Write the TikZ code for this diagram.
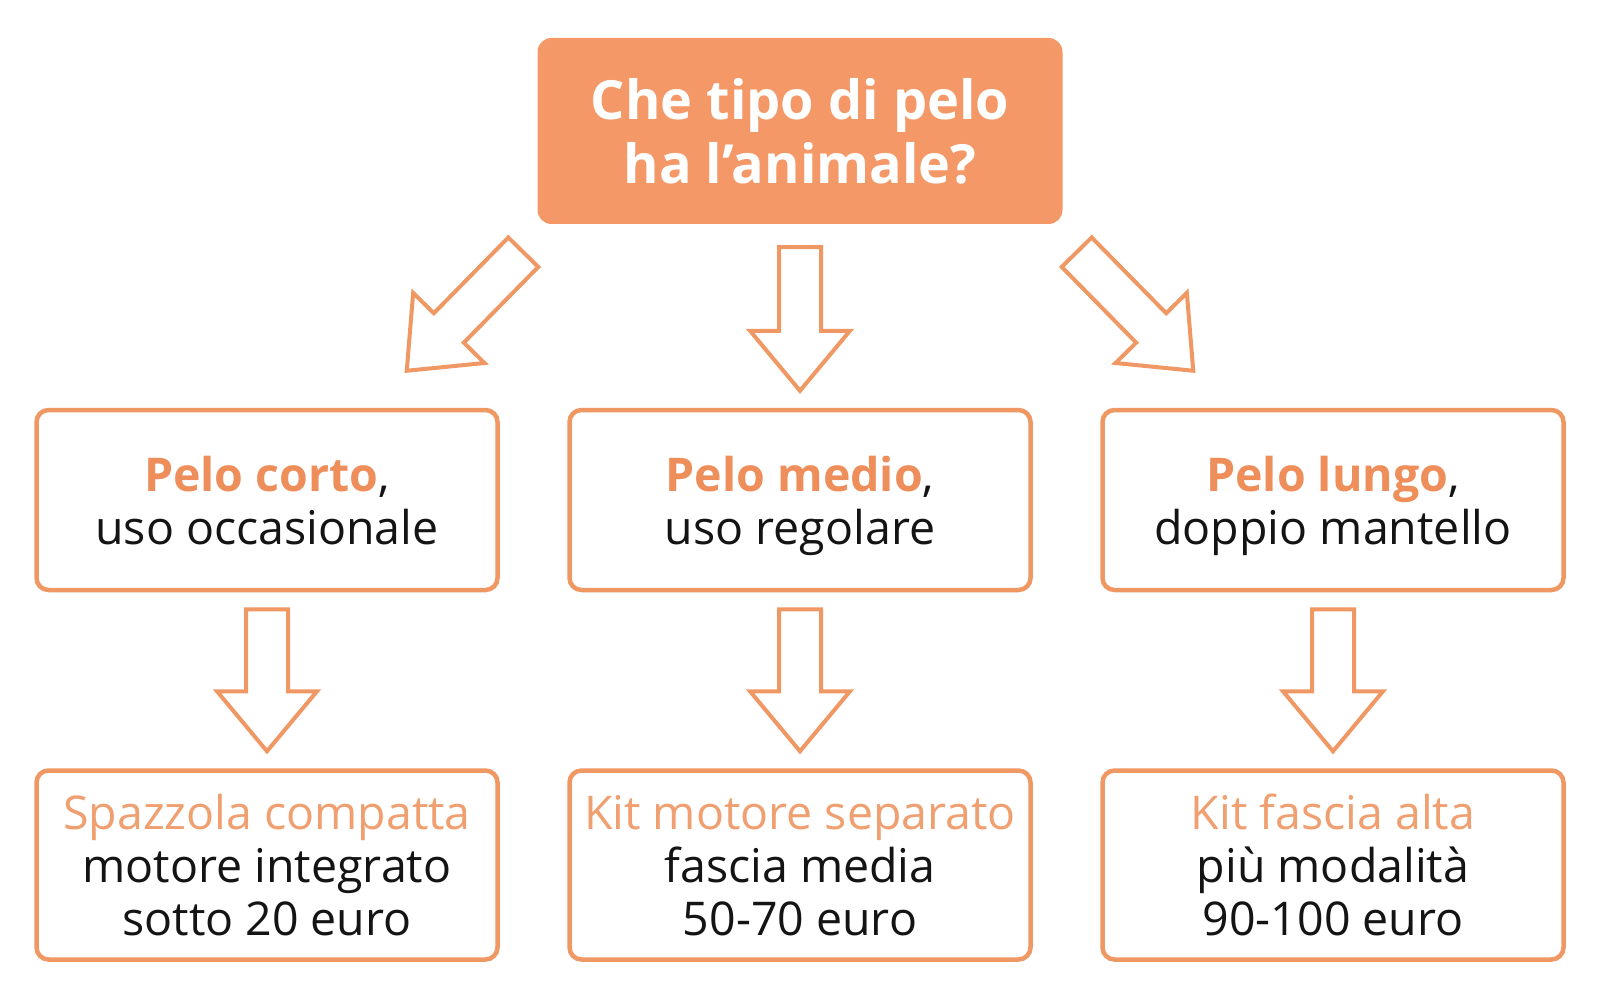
\documentclass[tikz,border=0pt]{standalone}
\usepackage{fontspec}
\setmainfont{Open Sans}
\usetikzlibrary{calc}
\definecolor{peach}{RGB}{245,152,104}
\definecolor{peachline}{RGB}{240,152,100}
\definecolor{peachtext}{RGB}{238,142,90}
\definecolor{peachsoft}{RGB}{240,160,112}
\definecolor{ink}{RGB}{20,20,20}
\begin{document}
\begin{tikzpicture}[
    x=1pt, y=-1pt,
    question/.style = {rectangle, rounded corners=14pt, fill=peach, text=white,
        minimum width=525pt, minimum height=186pt, align=center,
        font=\fontsize{54}{64}\selectfont\bfseries},
    hair/.style = {rectangle, rounded corners=12pt, draw=peachline, line width=4.5pt,
        fill=white, minimum width=461pt, minimum height=180pt, align=center,
        text=ink, text depth=0pt, font=\fontsize{46.5}{53}\selectfont},
    tool/.style = {hair, minimum height=189pt},
    blockarrow/.style = {draw=peachline, line width=4pt, fill=white, line join=miter,
        to path={
            ($(\tikztostart)!21pt!90:(\tikztotarget)$)
            -- ($(\tikztotarget)!60pt!(\tikztostart)!21pt!90:(\tikztotarget)$)
            -- ($(\tikztotarget)!60pt!(\tikztostart)!50pt!90:(\tikztotarget)$)
            -- (\tikztotarget)
            -- ($(\tikztotarget)!60pt!(\tikztostart)!50pt!-90:(\tikztotarget)$)
            -- ($(\tikztotarget)!60pt!(\tikztostart)!21pt!-90:(\tikztotarget)$)
            -- ($(\tikztostart)!21pt!-90:(\tikztotarget)$)
            -- cycle
        }}
    ]
    \fill[white] (0,0) rectangle (1600,1000);
    \useasboundingbox (0,0) rectangle (1600,1000);

    \node[question] (q) at (800,131) {Che tipo di pelo\\ ha l’animale?};

    \node[hair] (m1) at (267,500) {\textcolor{peachtext}{\bfseries Pelo corto},\\ uso occasionale};
    \node[hair] (m2) at (800,500) {\textcolor{peachtext}{\bfseries Pelo medio},\\ uso regolare};
    \node[hair] (m3) at (1333,500) {\textcolor{peachtext}{\bfseries Pelo lungo},\\ doppio mantello};

    \node[tool] (b1) at (267,865) {\textcolor{peachsoft}{Spazzola compatta}\\ motore integrato\\ sotto 20 euro};
    \node[tool] (b2) at (800,865) {\textcolor{peachsoft}{Kit motore separato}\\ fascia media\\ 50-70 euro};
    \node[tool] (b3) at (1333,865) {\textcolor{peachsoft}{Kit fascia alta}\\ più modalità\\ 90-100 euro};

    \coordinate (s1) at ($(q.south west)+(-14,28)$);
    \coordinate (t1) at ($(m1.north east)+(-93,-37)$);
    \coordinate (s2) at ($(q.south)+(0,23)$);
    \coordinate (t2) at ($(m2.north)+(0,-17)$);
    \coordinate (s3) at ($(q.south east)+(14,28)$);
    \coordinate (t3) at ($(m3.north west)+(93,-37)$);

    \draw[blockarrow] (s1) to (t1);
    \draw[blockarrow] (s2) to (t2);
    \draw[blockarrow] (s3) to (t3);

    \draw[blockarrow] ($(m1.south)+(0,17)$) to ($(b1.north)+(0,-17)$);
    \draw[blockarrow] ($(m2.south)+(0,17)$) to ($(b2.north)+(0,-17)$);
    \draw[blockarrow] ($(m3.south)+(0,17)$) to ($(b3.north)+(0,-17)$);
\end{tikzpicture}
\end{document}
